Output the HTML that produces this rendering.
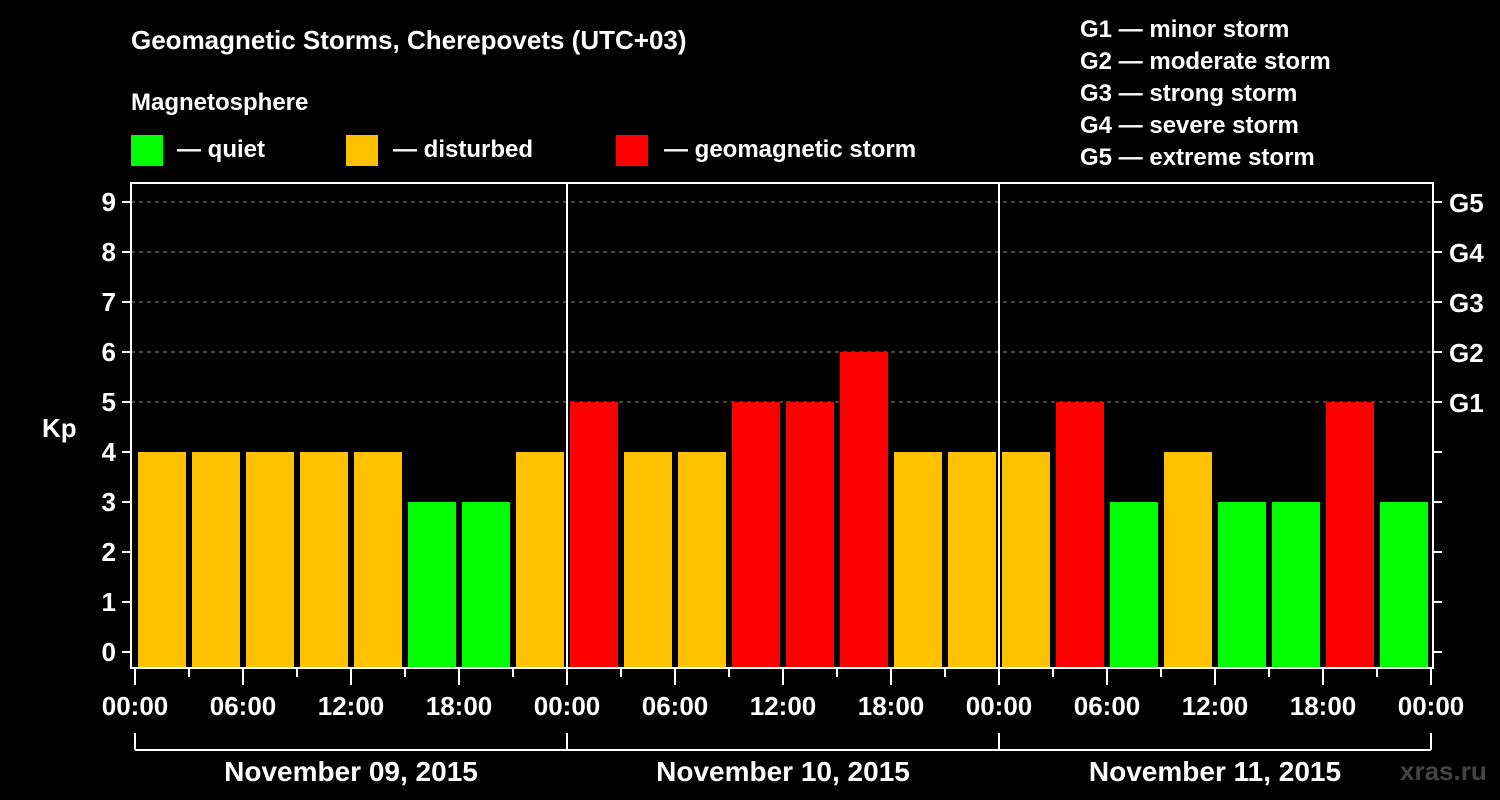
<!DOCTYPE html>
<html><head><meta charset="utf-8"><style>
html,body{margin:0;padding:0;background:#000;}
svg{display:block;font-family:"Liberation Sans",Arial,sans-serif;font-weight:bold;}
</style></head><body>
<svg id="chart" width="1500" height="800" viewBox="0 0 1500 800" xmlns="http://www.w3.org/2000/svg">
<rect width="1500" height="800" fill="#000"/>
<text x="131" y="49" font-size="26" fill="#fff">Geomagnetic Storms, Cherepovets (UTC+03)</text>
<text x="131" y="110" font-size="24" fill="#fff">Magnetosphere</text>
<g><rect x="131" y="135" width="32" height="31" fill="#00ff00"/><text x="177" y="157" font-size="24" fill="#fff">— quiet</text></g>
<g><rect x="346" y="135" width="32" height="31" fill="#ffc000"/><text x="393" y="157" font-size="24" fill="#fff">— disturbed</text></g>
<g><rect x="616" y="135" width="32" height="31" fill="#ff0000"/><text x="664" y="157" font-size="24" fill="#fff">— geomagnetic storm</text></g>
<g font-size="24" fill="#fff">
<text x="1080" y="37">G1 — minor storm</text>
<text x="1080" y="69">G2 — moderate storm</text>
<text x="1080" y="101">G3 — strong storm</text>
<text x="1080" y="133">G4 — severe storm</text>
<text x="1080" y="165">G5 — extreme storm</text>
</g>
<text x="42" y="437" font-size="26" fill="#fff">Kp</text>
<text x="1400" y="780" font-size="26" fill="#444">xras.ru</text>
<g id="plot"></g>
</svg>
<script>
const kpValues = [4,4,4,4,4,3,3,4, 5,4,4,5,5,6,4,4, 4,5,3,4,3,3,5,3];
const dayLabels = ["November 09, 2015","November 10, 2015","November 11, 2015"];
const hourLabels = ["00:00","06:00","12:00","18:00"];
const yTicks = [0,1,2,3,4,5,6,7,8,9];
const gLabels = ["G1","G2","G3","G4","G5"];

const NS="http://www.w3.org/2000/svg";
const g=document.getElementById('plot');
const X0=135, X1=1431, Y0=652, PX=50;
const xS=h=>X0+(X1-X0)*h/72;
const yS=v=>Y0-v*PX;
function mk(tag,attrs){const e=document.createElementNS(NS,tag);for(const k in attrs)e.setAttribute(k,attrs[k]);g.appendChild(e);return e;}
// grid
for(let v=5;v<=9;v++){
 const l=mk('line',{x1:131,x2:1433,y1:yS(v),y2:yS(v),stroke:'#888','stroke-dasharray':'4,4','stroke-width':1});
 
 
}
// bars
kpValues.forEach((v,i)=>{
 const c=v>=5?'#ff0000':(v>=4?'#ffc000':'#00ff00');
 const r=mk('rect',{x:xS(i*3)+3,y:yS(v),width:xS(3)-xS(0)-6,height:668-yS(v),fill:c});
 
 
});
// frame
const fr=mk('rect',{x:131,y:183,width:1302,height:485,fill:'none',stroke:'#fff','stroke-width':2});


for(let d=1;d<3;d++){
 const l=mk('line',{x1:xS(d*24),x2:xS(d*24),y1:183,y2:668,stroke:'#fff','stroke-width':2});
 
 
}
// y ticks
yTicks.forEach(v=>{
 mk('line',{x1:122,x2:131,y1:yS(v),y2:yS(v),stroke:'#fff','stroke-width':2});
 mk('line',{x1:1433,x2:1442,y1:yS(v),y2:yS(v),stroke:'#fff','stroke-width':2});
 const t=mk('text',{x:116,y:yS(v)+9,'text-anchor':'end','font-size':26,fill:'#fff'});
 t.textContent=v;
 
 
});
gLabels.forEach((s,i)=>{
 const t=mk('text',{x:1449,y:yS(i+5)+10,'font-size':26,fill:'#fff'});
 t.textContent=s;
 
 
});
// x ticks
for(let h=0;h<=72;h+=3){
 const major=h%6===0;
 mk('line',{x1:xS(h),x2:xS(h),y1:668,y2:major?685:677,stroke:'#fff','stroke-width':2});
 if(major){
  const t=mk('text',{x:xS(h),y:715,'text-anchor':'middle','font-size':26,fill:'#fff'});
  t.textContent=hourLabels[(h/6)%4];
  
  
 }
}
// day brackets
mk('line',{x1:xS(0),x2:xS(72),y1:750,y2:750,stroke:'#fff','stroke-width':2});
for(let d=0;d<=3;d++) mk('line',{x1:xS(d*24),x2:xS(d*24),y1:733,y2:750,stroke:'#fff','stroke-width':2});
dayLabels.forEach((s,d)=>{
 const t=mk('text',{x:xS(d*24+12),y:781,'text-anchor':'middle','font-size':28,fill:'#fff'});
 t.textContent=s;
 
 
});
</script>
</body></html>
